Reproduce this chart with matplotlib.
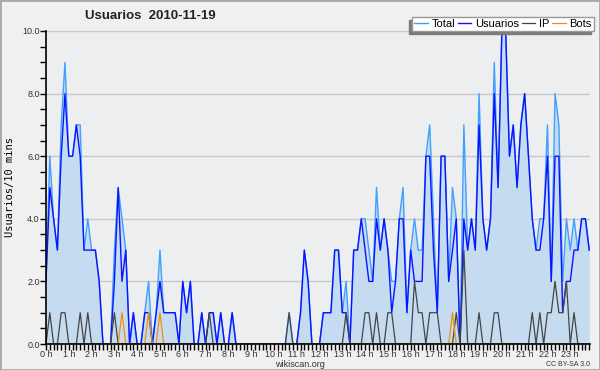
import numpy as np
import matplotlib
matplotlib.use("Agg")
import matplotlib.pyplot as plt
from matplotlib.patches import Rectangle

# one value every 10 minutes, 144 slots over the day
total = [2, 6, 4, 3, 7, 9, 6, 6, 7, 7,
         3, 4, 3, 3, 2, 0, 0, 0, 3, 5,
         4, 3, 0, 1, 0, 0, 1, 2, 0, 1,
         3, 1, 1, 1, 1, 0, 2, 1, 2, 0,
         0, 1, 0, 1, 1, 0, 1, 0, 0, 1,
         0, 0, 0, 0, 0, 0, 0, 0, 0, 0,
         0, 0, 0, 0, 1, 0, 0, 1, 3, 2,
         0, 0, 0, 1, 1, 1, 3, 3, 1, 2,
         0, 3, 3, 4, 4, 3, 2, 5, 3, 4,
         3, 2, 2, 4, 5, 1, 3, 4, 3, 3,
         6, 7, 4, 1, 6, 6, 2, 5, 4, 0,
         7, 3, 4, 3, 8, 4, 3, 4, 9, 5,
         10, 10, 6, 7, 5, 7, 8, 6, 4, 3,
         4, 4, 7, 2, 8, 7, 2, 4, 3, 4,
         3, 4, 4, 3]

usuarios = [2, 5, 4, 3, 6, 8, 6, 6, 7, 6,
            3, 3, 3, 3, 2, 0, 0, 0, 2, 5,
            2, 3, 0, 1, 0, 0, 1, 1, 0, 1,
            2, 1, 1, 1, 1, 0, 2, 1, 2, 0,
            0, 1, 0, 1, 1, 0, 1, 0, 0, 1,
            0, 0, 0, 0, 0, 0, 0, 0, 0, 0,
            0, 0, 0, 0, 0, 0, 0, 1, 3, 2,
            0, 0, 0, 1, 1, 1, 3, 3, 1, 1,
            0, 3, 3, 4, 3, 2, 2, 4, 3, 4,
            3, 1, 2, 4, 4, 1, 3, 2, 2, 2,
            6, 6, 3, 1, 6, 6, 2, 3, 4, 0,
            4, 3, 4, 3, 7, 4, 3, 4, 8, 5,
            10, 10, 6, 7, 5, 7, 8, 6, 4, 3,
            3, 4, 6, 2, 6, 6, 1, 2, 2, 3,
            3, 4, 4, 3]

ip = [0, 1, 0, 0, 1, 1, 0, 0, 0, 1,
      0, 1, 0, 0, 0, 0, 0, 0, 1, 0,
      0, 0, 0, 0, 0, 0, 0, 0, 0, 0,
      0, 0, 0, 0, 0, 0, 0, 0, 0, 0,
      0, 0, 0, 1, 0, 0, 0, 0, 0, 0,
      0, 0, 0, 0, 0, 0, 0, 0, 0, 0,
      0, 0, 0, 0, 1, 0, 0, 0, 0, 0,
      0, 0, 0, 0, 0, 0, 0, 0, 0, 1,
      0, 0, 0, 0, 1, 1, 0, 1, 0, 0,
      1, 1, 0, 0, 0, 0, 0, 2, 1, 1,
      0, 1, 1, 1, 0, 0, 0, 0, 1, 0,
      3, 0, 0, 0, 1, 0, 0, 0, 1, 1,
      0, 0, 0, 0, 0, 0, 0, 0, 1, 0,
      1, 0, 1, 1, 2, 1, 1, 2, 0, 1,
      0, 0, 0, 0]

bots = [0] * 144
for i in (20, 27, 30, 107):
    bots[i] = 1

hours = np.arange(144) / 6.0
hour_labels = ["%d h" % h for h in range(24)]

plt.rcParams["font.family"] = ["Liberation Sans", "DejaVu Sans"]

fig = plt.figure(figsize=(6, 3.7), dpi=100, facecolor="#f0f0f0")
fig.patches.append(Rectangle((0, 0), 1, 1, transform=fig.transFigure,
                             fill=False, edgecolor="#a8a8a8", lw=2))

ax = fig.add_axes([46 / 600, 1 - 344 / 370, 544 / 600, 313 / 370])
ax.set_facecolor("#edeef0")

ax.fill_between(hours, total, color="#c5dcf0", lw=0)
ax.plot(hours, total, color="#3fa0ff", lw=1.0, label="Total")
ax.plot(hours, usuarios, color="#0a14ff", lw=1.0, label="Usuarios")
ax.plot(hours, ip, color="#454545", lw=0.9, label="IP")
ax.plot(hours, bots, color="#f0900a", lw=0.9, label="Bots")

ax.set_xlim(0, 143.2 / 6)
ax.set_ylim(0, 10)
ax.set_yticks(np.arange(0, 10.1, 2))
ax.set_yticks(np.arange(0, 10.1, 0.5), minor=True)
ax.set_yticklabels(["%.1f" % v for v in np.arange(0, 10.1, 2)])
ax.set_xticks(range(24))
ax.set_xticks(np.arange(0, 24, 1 / 6.0), minor=True)
ax.set_xticklabels(hour_labels)
ax.grid(axis="y", color="#c8c8c8", lw=1)
ax.set_axisbelow(True)
for s in ("top", "right"):
    ax.spines[s].set_visible(False)
ax.spines["left"].set_linewidth(1.2)
ax.spines["bottom"].set_linewidth(1.2)
ax.tick_params(which="both", direction="out", colors="black", labelcolor="#333333",
               labelsize=6.5, width=1)
ax.tick_params(which="major", length=4, pad=0.5)
ax.tick_params(which="minor", length=4)

fig.text(85 / 600, 1 - 16 / 370, "Usuarios  2010-11-19", fontsize=9.5,
         fontweight="bold", va="center", ha="left", color="#222222")
fig.text(10 / 600, 1 - 187 / 370, "Usuarios/10 mins", rotation=90,
         family="DejaVu Sans Mono", fontsize=7.5, va="center", ha="center")
fig.text(300 / 600, 1 - 364.5 / 370, "wikiscan.org", fontsize=6.5, ha="center",
         va="center", color="#333333")
fig.text(590 / 600, 1 - 364.5 / 370, "CC BY-SA 3.0", fontsize=5, ha="right",
         va="center", color="#333333")

leg = fig.legend(loc="upper right", bbox_to_anchor=(594 / 600, 1 - 17 / 370),
                 ncol=4, fontsize=8, frameon=True, fancybox=False,
                 handlelength=1.2, handletextpad=0.35, columnspacing=0.25,
                 borderpad=0.2, borderaxespad=0)
leg.get_frame().set_edgecolor("#999999")
leg.get_frame().set_facecolor("white")
leg.get_frame().set_alpha(1)
leg.set_zorder(10)

# dark shadow behind the legend, offset to the lower left
fig.canvas.draw()
bb = leg.get_window_extent().transformed(fig.transFigure.inverted())
fig.patches.append(Rectangle((bb.x0 - 3 / 600, bb.y0 - 3 / 370), bb.width, bb.height,
                             transform=fig.transFigure, color="#7a7a7a", zorder=5))

fig.savefig("out.png", dpi=100, facecolor=fig.get_facecolor())
